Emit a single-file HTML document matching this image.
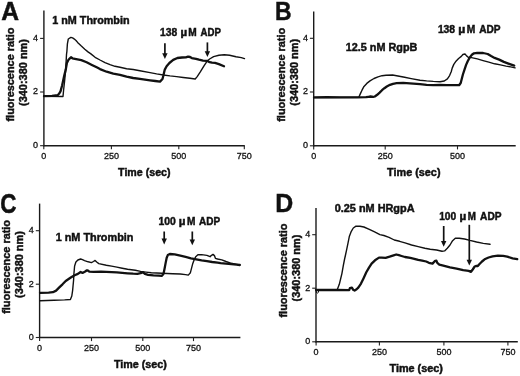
<!DOCTYPE html>
<html><head><meta charset="utf-8"><style>
html,body{margin:0;padding:0;background:#fff;width:520px;height:376px;overflow:hidden}
svg{display:block;will-change:transform}
text{font-family:"Liberation Sans", sans-serif;fill:#111} text[font-weight=bold]{stroke:#111;stroke-width:0.45px} text[font-weight=normal]{stroke:#111;stroke-width:0.3px}
</style></head><body>
<svg width="520" height="376" viewBox="0 0 520 376">
<rect width="520" height="376" fill="#fff"/>
<line x1="43.9" y1="10.6" x2="43.9" y2="146.29999999999998" stroke="#1a1a1a" stroke-width="1.4"/>
<line x1="43.3" y1="145.7" x2="244.8" y2="145.7" stroke="#1a1a1a" stroke-width="1.4"/>
<line x1="43.8" y1="145.7" x2="43.8" y2="149.29999999999998" stroke="#222" stroke-width="1.1"/>
<text x="43.8" y="159.0" font-size="9" font-weight="normal" text-anchor="middle" >0</text>
<line x1="111.4" y1="145.7" x2="111.4" y2="149.29999999999998" stroke="#222" stroke-width="1.1"/>
<text x="111.4" y="159.0" font-size="9" font-weight="normal" text-anchor="middle" >250</text>
<line x1="178.8" y1="145.7" x2="178.8" y2="149.29999999999998" stroke="#222" stroke-width="1.1"/>
<text x="178.8" y="159.0" font-size="9" font-weight="normal" text-anchor="middle" >500</text>
<line x1="244.3" y1="145.7" x2="244.3" y2="149.29999999999998" stroke="#222" stroke-width="1.1"/>
<text x="244.3" y="159.0" font-size="9" font-weight="normal" text-anchor="middle" >750</text>
<line x1="40.1" y1="145.7" x2="43.9" y2="145.7" stroke="#222" stroke-width="1.1"/>
<text x="38.1" y="148.1" font-size="9" font-weight="normal" text-anchor="end" >0</text>
<line x1="40.1" y1="92" x2="43.9" y2="92" stroke="#222" stroke-width="1.1"/>
<text x="38.1" y="94.4" font-size="9" font-weight="normal" text-anchor="end" >2</text>
<line x1="40.1" y1="38.4" x2="43.9" y2="38.4" stroke="#222" stroke-width="1.1"/>
<text x="38.1" y="40.8" font-size="9" font-weight="normal" text-anchor="end" >4</text>
<text x="0" y="0" font-size="24.4" font-weight="bold" text-anchor="start" transform="translate(1.31,19.5) scale(1.01,1.04)">A</text>
<text x="0" y="0" font-size="10.9" font-weight="bold" text-anchor="middle" transform="translate(13.8,74.6) rotate(-90)">fluorescence ratio</text>
<text x="0" y="0" font-size="10.95" font-weight="bold" text-anchor="middle" transform="translate(26.9,72.5) rotate(-90)">(340:380 nm)</text>
<text x="118.11" y="175.8" font-size="10.5" font-weight="bold" text-anchor="start" textLength="52.39" lengthAdjust="spacingAndGlyphs">Time (sec)</text>
<line x1="313.7" y1="11.5" x2="313.7" y2="146.4" stroke="#1a1a1a" stroke-width="1.4"/>
<line x1="313.09999999999997" y1="145.8" x2="515.7" y2="145.8" stroke="#1a1a1a" stroke-width="1.4"/>
<line x1="313.7" y1="145.8" x2="313.7" y2="149.4" stroke="#222" stroke-width="1.1"/>
<text x="313.7" y="159.10000000000002" font-size="9" font-weight="normal" text-anchor="middle" >0</text>
<line x1="385.2" y1="145.8" x2="385.2" y2="149.4" stroke="#222" stroke-width="1.1"/>
<text x="385.2" y="159.10000000000002" font-size="9" font-weight="normal" text-anchor="middle" >250</text>
<line x1="457.5" y1="145.8" x2="457.5" y2="149.4" stroke="#222" stroke-width="1.1"/>
<text x="457.5" y="159.10000000000002" font-size="9" font-weight="normal" text-anchor="middle" >500</text>
<line x1="309.9" y1="145.8" x2="313.7" y2="145.8" stroke="#222" stroke-width="1.1"/>
<text x="307.9" y="148.20000000000002" font-size="9" font-weight="normal" text-anchor="end" >0</text>
<line x1="309.9" y1="92" x2="313.7" y2="92" stroke="#222" stroke-width="1.1"/>
<text x="307.9" y="94.4" font-size="9" font-weight="normal" text-anchor="end" >2</text>
<line x1="309.9" y1="38.3" x2="313.7" y2="38.3" stroke="#222" stroke-width="1.1"/>
<text x="307.9" y="40.699999999999996" font-size="9" font-weight="normal" text-anchor="end" >4</text>
<text x="0" y="0" font-size="24.4" font-weight="bold" text-anchor="start" transform="translate(274.99,19.5) scale(0.94,1.035)">B</text>
<text x="0" y="0" font-size="10.9" font-weight="bold" text-anchor="middle" transform="translate(284.8,74.85) rotate(-90)">fluorescence ratio</text>
<text x="0" y="0" font-size="10.95" font-weight="bold" text-anchor="middle" transform="translate(298,72.3) rotate(-90)">(340:380 nm)</text>
<text x="387.11" y="176" font-size="10.5" font-weight="bold" text-anchor="start" textLength="53.39" lengthAdjust="spacingAndGlyphs">Time (sec)</text>
<line x1="39.6" y1="203.6" x2="39.6" y2="338.1" stroke="#1a1a1a" stroke-width="1.4"/>
<line x1="39.0" y1="337.5" x2="240.4" y2="337.5" stroke="#1a1a1a" stroke-width="1.4"/>
<line x1="39.6" y1="337.5" x2="39.6" y2="341.1" stroke="#222" stroke-width="1.1"/>
<text x="39.6" y="350.8" font-size="9" font-weight="normal" text-anchor="middle" >0</text>
<line x1="91.5" y1="337.5" x2="91.5" y2="341.1" stroke="#222" stroke-width="1.1"/>
<text x="91.5" y="350.8" font-size="9" font-weight="normal" text-anchor="middle" >250</text>
<line x1="142.8" y1="337.5" x2="142.8" y2="341.1" stroke="#222" stroke-width="1.1"/>
<text x="142.8" y="350.8" font-size="9" font-weight="normal" text-anchor="middle" >500</text>
<line x1="193.5" y1="337.5" x2="193.5" y2="341.1" stroke="#222" stroke-width="1.1"/>
<text x="193.5" y="350.8" font-size="9" font-weight="normal" text-anchor="middle" >750</text>
<line x1="35.800000000000004" y1="337.5" x2="39.6" y2="337.5" stroke="#222" stroke-width="1.1"/>
<text x="33.800000000000004" y="339.9" font-size="9" font-weight="normal" text-anchor="end" >0</text>
<line x1="35.800000000000004" y1="284.2" x2="39.6" y2="284.2" stroke="#222" stroke-width="1.1"/>
<text x="33.800000000000004" y="286.59999999999997" font-size="9" font-weight="normal" text-anchor="end" >2</text>
<line x1="35.800000000000004" y1="230.7" x2="39.6" y2="230.7" stroke="#222" stroke-width="1.1"/>
<text x="33.800000000000004" y="233.1" font-size="9" font-weight="normal" text-anchor="end" >4</text>
<text x="0" y="0" font-size="24.4" font-weight="bold" text-anchor="start" transform="translate(0.3,212.8) scale(0.92,1.12)">C</text>
<text x="0" y="0" font-size="10.9" font-weight="bold" text-anchor="middle" transform="translate(10.4,266.9) rotate(-90)">fluorescence ratio</text>
<text x="0" y="0" font-size="10.95" font-weight="bold" text-anchor="middle" transform="translate(23.3,264.55) rotate(-90)">(340:380 nm)</text>
<text x="113.91" y="367.8" font-size="10.5" font-weight="bold" text-anchor="start" textLength="52.79" lengthAdjust="spacingAndGlyphs">Time (sec)</text>
<line x1="316.0" y1="207.9" x2="316.0" y2="342.40000000000003" stroke="#1a1a1a" stroke-width="1.4"/>
<line x1="315.4" y1="341.8" x2="517.8" y2="341.8" stroke="#1a1a1a" stroke-width="1.4"/>
<line x1="316.1" y1="341.8" x2="316.1" y2="345.40000000000003" stroke="#222" stroke-width="1.1"/>
<text x="316.1" y="355.1" font-size="9" font-weight="normal" text-anchor="middle" >0</text>
<line x1="379.4" y1="341.8" x2="379.4" y2="345.40000000000003" stroke="#222" stroke-width="1.1"/>
<text x="379.4" y="355.1" font-size="9" font-weight="normal" text-anchor="middle" >250</text>
<line x1="443.9" y1="341.8" x2="443.9" y2="345.40000000000003" stroke="#222" stroke-width="1.1"/>
<text x="443.9" y="355.1" font-size="9" font-weight="normal" text-anchor="middle" >500</text>
<line x1="507.9" y1="341.8" x2="507.9" y2="345.40000000000003" stroke="#222" stroke-width="1.1"/>
<text x="507.9" y="355.1" font-size="9" font-weight="normal" text-anchor="middle" >750</text>
<line x1="312.2" y1="341.8" x2="316.0" y2="341.8" stroke="#222" stroke-width="1.1"/>
<text x="310.2" y="344.2" font-size="9" font-weight="normal" text-anchor="end" >0</text>
<line x1="312.2" y1="288.2" x2="316.0" y2="288.2" stroke="#222" stroke-width="1.1"/>
<text x="310.2" y="290.59999999999997" font-size="9" font-weight="normal" text-anchor="end" >2</text>
<line x1="312.2" y1="234.7" x2="316.0" y2="234.7" stroke="#222" stroke-width="1.1"/>
<text x="310.2" y="237.1" font-size="9" font-weight="normal" text-anchor="end" >4</text>
<text x="0" y="0" font-size="24.4" font-weight="bold" text-anchor="start" transform="translate(275.16,212.2) scale(1.02,1.03)">D</text>
<text x="0" y="0" font-size="10.9" font-weight="bold" text-anchor="middle" transform="translate(287.2,270.6) rotate(-90)">fluorescence ratio</text>
<text x="0" y="0" font-size="10.95" font-weight="bold" text-anchor="middle" transform="translate(300,268.05) rotate(-90)">(340:380 nm)</text>
<text x="389.51" y="371.8" font-size="10.5" font-weight="bold" text-anchor="start" textLength="53.39" lengthAdjust="spacingAndGlyphs">Time (sec)</text>
<text x="52.28" y="23.6" font-size="10.3" font-weight="bold" text-anchor="start" textLength="77.24" lengthAdjust="spacingAndGlyphs">1 nM Thrombin</text>
<text x="160.08" y="36" font-size="10.3" font-weight="bold" text-anchor="start" textLength="17.12" lengthAdjust="spacingAndGlyphs">138</text>
<text x="180.56" y="36" font-size="10.3" font-weight="bold" text-anchor="start" textLength="6.64" lengthAdjust="spacingAndGlyphs">µ</text>
<text x="188.23" y="36" font-size="10.3" font-weight="bold" text-anchor="start" textLength="8.43" lengthAdjust="spacingAndGlyphs">M</text>
<text x="200.47" y="36" font-size="10.3" font-weight="bold" text-anchor="start" textLength="20.36" lengthAdjust="spacingAndGlyphs">ADP</text>
<line x1="164.9" y1="43.2" x2="164.9" y2="54.300000000000004" stroke="#111" stroke-width="1.7"/>
<path d="M162.20000000000002,53.300000000000004 L167.6,53.300000000000004 L164.9,59.1 Z" fill="#111"/>
<line x1="207.4" y1="42.4" x2="207.4" y2="52.300000000000004" stroke="#111" stroke-width="1.7"/>
<path d="M204.70000000000002,51.300000000000004 L210.1,51.300000000000004 L207.4,57.1 Z" fill="#111"/>
<text x="345.78" y="51" font-size="10.3" font-weight="bold" text-anchor="start" textLength="71.56" lengthAdjust="spacingAndGlyphs">12.5 nM RgpB</text>
<text x="437.88" y="32.8" font-size="10.3" font-weight="bold" text-anchor="start" textLength="17.22" lengthAdjust="spacingAndGlyphs">138</text>
<text x="458.16" y="32.8" font-size="10.3" font-weight="bold" text-anchor="start" textLength="7.04" lengthAdjust="spacingAndGlyphs">µ</text>
<text x="466.83" y="32.8" font-size="10.3" font-weight="bold" text-anchor="start" textLength="8.53" lengthAdjust="spacingAndGlyphs">M</text>
<text x="479.17" y="32.8" font-size="10.3" font-weight="bold" text-anchor="start" textLength="21.36" lengthAdjust="spacingAndGlyphs">ADP</text>
<text x="55.68" y="240.6" font-size="10.3" font-weight="bold" text-anchor="start" textLength="77.74" lengthAdjust="spacingAndGlyphs">1 nM Thrombin</text>
<text x="158.48" y="224.8" font-size="10.3" font-weight="bold" text-anchor="start" textLength="17.33" lengthAdjust="spacingAndGlyphs">100</text>
<text x="178.76" y="224.8" font-size="10.3" font-weight="bold" text-anchor="start" textLength="6.74" lengthAdjust="spacingAndGlyphs">µ</text>
<text x="186.93" y="224.8" font-size="10.3" font-weight="bold" text-anchor="start" textLength="8.43" lengthAdjust="spacingAndGlyphs">M</text>
<text x="199.07" y="224.8" font-size="10.3" font-weight="bold" text-anchor="start" textLength="21.06" lengthAdjust="spacingAndGlyphs">ADP</text>
<line x1="164.2" y1="231.5" x2="164.2" y2="239.6" stroke="#111" stroke-width="1.7"/>
<path d="M161.5,238.6 L166.89999999999998,238.6 L164.2,244.4 Z" fill="#111"/>
<line x1="192.3" y1="231.5" x2="192.3" y2="240.39999999999998" stroke="#111" stroke-width="1.7"/>
<path d="M189.60000000000002,239.39999999999998 L195.0,239.39999999999998 L192.3,245.2 Z" fill="#111"/>
<text x="334.71" y="211.6" font-size="10.3" font-weight="bold" text-anchor="start" textLength="79.83" lengthAdjust="spacingAndGlyphs">0.25 nM HRgpA</text>
<text x="439.18" y="219.8" font-size="10.3" font-weight="bold" text-anchor="start" textLength="17.03" lengthAdjust="spacingAndGlyphs">100</text>
<text x="459.46" y="219.8" font-size="10.3" font-weight="bold" text-anchor="start" textLength="6.74" lengthAdjust="spacingAndGlyphs">µ</text>
<text x="467.83" y="219.8" font-size="10.3" font-weight="bold" text-anchor="start" textLength="8.13" lengthAdjust="spacingAndGlyphs">M</text>
<text x="480.07" y="219.8" font-size="10.3" font-weight="bold" text-anchor="start" textLength="21.46" lengthAdjust="spacingAndGlyphs">ADP</text>
<line x1="443.7" y1="226" x2="443.7" y2="241.99999999999997" stroke="#111" stroke-width="1.7"/>
<path d="M441.0,240.99999999999997 L446.4,240.99999999999997 L443.7,246.79999999999998 Z" fill="#111"/>
<line x1="469.3" y1="224.8" x2="469.3" y2="260.8" stroke="#111" stroke-width="1.7"/>
<path d="M466.6,259.8 L472.0,259.8 L469.3,265.6 Z" fill="#111"/>
<path d="M44.0,96.3 L63.0,96.5 L63.6,90.0 L64.5,82.0 L65.5,72.0 L66.2,60.0 L66.5,54.5 L66.9,51.3 L67.4,43.8 L68.3,39.0 L70.9,37.4 L72.6,37.9 L74.0,38.8 L76.0,40.5 L77.6,42.4 L80.8,45.6 L84.8,49.2 L88.0,51.9 L90.9,53.9 L95.1,57.3 L100.0,60.0 L105.0,62.6 L110.0,64.6 L115.0,66.3 L120.0,67.3 L126.6,68.7 L133.2,69.5 L139.9,70.7 L150.0,72.6 L156.6,73.9 L163.3,75.0 L170.0,75.9 L176.6,76.6 L183.2,77.5 L189.9,78.3 L195.2,79.0 L197.2,76.6 L200.3,71.9 L204.3,65.3 L207.0,61.3 L209.6,59.0 L213.6,56.6 L218.9,55.3 L224.3,54.7 L229.6,55.2 L236.0,56.8 L241.3,57.6 L244.5,58.6" fill="none" stroke="#111" stroke-width="1.4" stroke-linejoin="round" stroke-linecap="round"/>
<path d="M44.0,96.1 L52.0,95.9 L57.6,95.2 L59.0,93.8 L60.5,91.4 L62.1,85.5 L64.2,75.8 L65.8,69.4 L66.9,63.0 L68.5,59.8 L69.3,58.9 L71.0,57.3 L72.4,58.3 L74.9,58.8 L81.3,60.1 L86.6,62.2 L91.9,64.9 L97.2,67.6 L100.0,69.1 L106.6,71.7 L113.3,73.6 L120.0,74.9 L126.6,76.7 L133.2,78.0 L139.9,78.9 L150.0,80.3 L155.3,81.0 L160.0,81.6 L162.5,79.0 L163.4,75.5 L163.9,73.3 L164.8,69.6 L166.6,66.3 L169.4,63.0 L173.2,59.9 L177.4,58.0 L182.0,57.5 L185.8,57.4 L188.1,56.6 L190.0,57.0 L191.8,58.1 L196.0,58.9 L199.0,59.7 L203.0,60.6 L207.0,60.8 L209.6,62.2 L212.0,62.7 L215.0,62.9 L218.9,64.1 L224.0,66.3" fill="none" stroke="#111" stroke-width="2.3" stroke-linejoin="round" stroke-linecap="round"/>
<path d="M314.0,97.6 L358.8,97.2 L360.4,93.6 L362.0,90.2 L364.0,86.4 L366.8,83.4 L370.0,80.9 L374.0,78.5 L378.0,76.8 L382.0,75.7 L386.0,75.2 L392.6,75.0 L397.9,76.0 L404.6,77.3 L411.2,78.6 L420.0,80.2 L426.6,80.9 L433.3,81.4 L440.0,81.7 L444.3,81.0 L447.4,78.9 L449.6,75.6 L451.2,71.8 L452.2,68.1 L453.8,64.4 L456.0,61.2 L458.6,58.5 L461.3,56.4 L462.9,54.5 L465.0,54.0 L466.6,55.9 L468.2,57.2 L471.5,57.6 L477.3,58.9 L483.1,60.6 L488.8,62.2 L494.6,63.8 L500.4,64.9 L506.1,66.1 L510.7,66.9 L515.1,67.9" fill="none" stroke="#111" stroke-width="1.4" stroke-linejoin="round" stroke-linecap="round"/>
<path d="M314.0,97.4 L327.0,97.2 L340.0,97.3 L357.0,97.3 L366.0,97.2 L368.5,96.8 L370.5,96.5 L373.2,96.9 L374.8,96.5 L377.2,94.8 L379.6,92.6 L382.0,90.2 L384.4,88.2 L386.8,86.5 L390.0,84.8 L393.0,83.8 L396.6,83.2 L403.2,82.9 L409.9,83.3 L420.0,84.2 L426.6,84.8 L433.3,85.2 L440.0,84.9 L446.6,85.1 L453.2,85.2 L459.1,85.2 L460.7,83.0 L461.8,78.7 L462.9,74.5 L464.5,69.7 L466.1,64.9 L467.7,61.2 L469.8,57.4 L471.9,54.8 L474.0,53.3 L477.2,52.8 L483.1,53.0 L487.7,54.0 L491.1,56.1 L494.6,57.9 L499.2,59.6 L503.8,61.9 L508.4,63.6 L514.2,65.6" fill="none" stroke="#111" stroke-width="2.3" stroke-linejoin="round" stroke-linecap="round"/>
<path d="M40.0,300.7 L54.0,300.2 L64.6,299.9 L70.4,299.5 L71.8,296.0 L72.6,290.6 L73.1,285.3 L73.6,280.0 L73.9,274.0 L74.6,266.0 L75.9,262.0 L77.9,260.0 L80.6,259.0 L82.5,259.6 L84.5,260.6 L88.2,261.8 L91.4,262.6 L93.5,261.5 L95.1,260.4 L96.7,262.0 L98.8,263.6 L106.3,265.2 L111.6,266.1 L116.9,267.1 L122.2,268.2 L127.6,269.3 L135.3,270.3 L140.6,271.4 L146.0,272.1 L151.3,272.7 L156.6,273.0 L161.9,273.2 L167.2,273.5 L172.6,273.7 L180.3,274.0 L185.6,274.6 L188.3,275.1 L190.4,272.7 L191.5,268.4 L192.6,264.1 L194.1,259.9 L195.7,256.7 L197.9,254.8 L201.6,254.6 L206.9,255.4 L210.1,256.7 L211.2,255.6 L213.0,254.4 L214.4,255.6 L215.4,258.3 L217.6,259.0 L221.8,259.9 L226.0,261.5 L231.3,263.3 L236.6,264.4 L239.8,265.0" fill="none" stroke="#111" stroke-width="1.4" stroke-linejoin="round" stroke-linecap="round"/>
<path d="M40.0,292.8 L48.6,292.6 L52.9,292.2 L56.1,290.6 L59.3,287.4 L62.5,284.3 L65.7,281.0 L67.9,279.5 L71.2,277.3 L74.6,275.3 L77.9,273.9 L80.6,272.0 L82.5,272.9 L85.2,271.5 L86.6,270.5 L87.7,270.3 L89.3,271.6 L93.5,271.8 L101.0,271.6 L106.3,271.8 L111.6,272.1 L116.9,272.4 L122.2,272.9 L127.6,273.3 L133.2,273.7 L137.4,273.9 L140.6,273.2 L142.8,272.1 L144.9,273.9 L148.1,274.8 L153.4,275.3 L158.7,275.6 L161.9,275.9 L163.5,273.7 L164.6,268.4 L165.6,263.1 L166.7,257.8 L167.8,255.1 L169.9,254.0 L174.7,254.4 L180.3,255.6 L185.6,256.9 L191.0,258.3 L196.3,259.4 L201.6,260.4 L206.9,261.2 L212.2,262.0 L217.6,262.6 L220.6,263.1 L226.0,263.6 L231.3,264.1 L236.6,264.7 L239.8,265.0" fill="none" stroke="#111" stroke-width="2.3" stroke-linejoin="round" stroke-linecap="round"/>
<path d="M316.0,289.8 L337.3,289.5 L339.3,284.3 L340.6,279.0 L341.9,273.6 L343.3,265.6 L344.6,259.0 L345.5,255.0 L346.6,249.9 L348.0,243.2 L349.3,236.6 L351.3,231.3 L353.3,228.0 L356.0,226.2 L360.0,226.2 L363.9,227.0 L369.3,229.3 L374.6,231.9 L379.9,234.6 L383.9,235.5 L389.0,237.3 L394.3,240.0 L399.6,241.3 L405.0,242.9 L411.6,245.0 L418.2,246.6 L424.9,248.2 L430.2,249.2 L436.6,250.0 L442.0,251.3 L444.6,250.9 L447.3,248.3 L450.0,245.0 L452.6,240.7 L455.3,238.3 L459.3,238.3 L464.6,239.0 L469.9,240.4 L476.6,242.0 L483.3,243.4 L490.0,244.3" fill="none" stroke="#111" stroke-width="1.4" stroke-linejoin="round" stroke-linecap="round"/>
<path d="M316.0,290.0 L336.6,289.9 L349.2,290.2 L349.9,288.2 L351.9,287.6 L353.2,289.8 L354.6,290.6 L356.6,289.3 L358.3,287.6 L361.0,283.6 L363.6,278.2 L366.3,272.3 L369.0,267.6 L371.6,263.6 L375.0,260.3 L379.0,257.6 L381.6,257.6 L385.6,257.9 L389.6,256.7 L393.6,255.4 L396.2,254.5 L398.9,255.2 L401.5,256.0 L405.0,257.0 L410.3,257.9 L414.3,258.8 L418.2,259.9 L422.2,260.6 L426.2,261.5 L428.9,262.8 L432.5,263.6 L434.7,261.2 L436.4,260.6 L437.3,262.9 L439.3,264.6 L443.3,265.6 L450.0,267.3 L456.6,268.6 L463.2,270.2 L468.6,270.9 L471.0,271.8 L472.7,269.5 L474.7,266.5 L476.5,265.8 L477.8,266.1 L479.3,264.3 L482.0,261.5 L484.6,259.3 L488.6,257.5 L492.6,256.3 L497.9,255.7 L503.2,255.9 L507.2,256.6 L512.6,258.3 L517.2,259.2" fill="none" stroke="#111" stroke-width="2.3" stroke-linejoin="round" stroke-linecap="round"/>
<path d="M316.4,290.5 L316.2,292.2 L317.2,293.2 L318.4,292.4 L318.6,291.0" fill="none" stroke="#111" stroke-width="1.0" stroke-linejoin="round" stroke-linecap="round"/>
</svg>
</body></html>
